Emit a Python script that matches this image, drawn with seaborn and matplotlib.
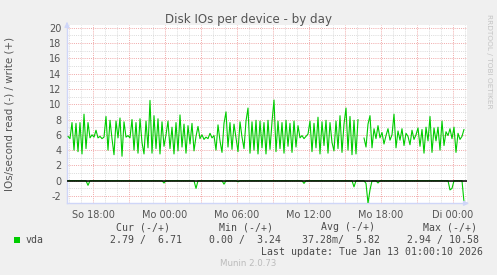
import numpy as np
import pandas as pd
import matplotlib
matplotlib.use("Agg")
import matplotlib.pyplot as plt
import seaborn as sns
from matplotlib.ticker import MultipleLocator, FuncFormatter
from matplotlib.patches import Rectangle

# ---------------- data ----------------
start_hour = 15 + 55 / 60      # Sunday 15:55 (hours since Sunday 00:00)
step_hours = 10 / 60           # one sample every 10 minutes

write_ops = [
    5.8, 5.5, 7.6, 4.0, 7.5, 3.8, 7.6, 3.5, 8.7, 4.2, 7.6,
    5.6, 6.0, 5.7, 6.6, 5.6, 5.8, 5.5, 5.7,
    8.4, 4.0, 7.9, 5.5, 3.4, 7.8, 5.6, 8.2, 3.2, 7.7,
    5.7, 5.9, 5.6, 8.0,
    4.0, 7.6, 3.6, 8.1, 5.0, 3.5, 7.8, 4.3, 10.5, 3.6, 8.5, 4.2, 8.1, 3.5, 7.7, 4.5, 6.0,
    7.8, 4.2, 7.0, 3.5, 7.6, 3.9, 8.6,
    4.4, 7.4, 3.6, 7.2, 4.8, 7.5, 3.9,
    5.8, 7.1, 5.5, 6.0, 5.4, 5.7, 5.5, 6.2, 5.6, 5.9,
    4.0, 7.3, 5.2, 3.7, 7.5, 9.0, 4.4, 7.6,
    4.1, 7.4, 5.6, 3.8, 7.7,
    5.7, 4.2, 7.8, 9.5, 3.6, 7.7, 4.0, 7.9, 3.5, 7.8, 4.3, 7.6,
    3.5, 7.9, 4.1, 7.7, 10.55, 3.8, 7.8, 4.2, 7.6, 3.6, 7.9, 4.5, 7.5, 3.7, 7.8, 4.4, 7.2,
    5.6, 5.9, 5.5, 5.8, 6.1,
    7.8, 3.8, 7.5, 4.3, 8.3, 3.5, 7.7, 4.6, 7.9, 3.6, 7.6, 5.0, 3.9, 7.8, 4.2, 8.5, 3.7, 7.4,
    9.5, 4.0, 8.4, 3.4, 7.9, 3.5, 8.0,
    np.nan, np.nan,
    5.6, 4.4, 7.4, 8.5, 4.3, 6.8, 5.5, 7.2,
    5.6, 6.3, 4.8, 5.9, 6.8, 5.3, 6.0,
    8.7, 4.3, 6.5,
    5.3, 6.8, 4.6, 6.2, 5.8, 4.7, 6.6, 5.4, 6.0, 6.9,
    4.5, 6.7, 3.6, 7.0, 5.2, 8.4, 3.7, 6.9,
    5.2, 7.0, 4.0, 7.8, 4.6, 6.4, 5.9, 6.8,
    5.5, 7.0, 3.7, 6.2, 5.4, 5.8, 6.71,
]

# read values (drawn below zero), non-zero only at a few samples
read_dips = {10: 0.6, 48: 0.3, 64: 1.0, 78: 0.45, 85: 0.15, 118: 0.35,
             143: 0.8, 149: 0.35, 150: 2.94, 151: 1.2, 155: 0.3,
             191: 1.2, 192: 1.0, 198: 2.79}
read_ops = [read_dips.get(i, 0.0) for i in range(len(write_ops))]

tick_hours = [18, 24, 30, 36, 42, 48]
tick_labels = ["So 18:00", "Mo 00:00", "Mo 06:00", "Mo 12:00", "Mo 18:00", "Di 00:00"]

title = "Disk IOs per device - by day"
y_label = "IOs/second read (-) / write (+)"
legend_name = "vda"
stat_headers = ["Cur (-/+)", "Min (-/+)", "Avg (-/+)", "Max (-/+)"]
stat_values = ["2.79 /  6.71", "0.00 /  3.24", "37.28m/  5.82", "2.94 / 10.58"]
last_update = "Last update: Tue Jan 13 01:00:10 2026"
footer = "Munin 2.0.73"
side_text = "RRDTOOL / TOBI OETIKER"

# ---------------- figure ----------------
sns.set_style("white")
plt.rcParams['font.family'] = ['DejaVu Sans']

W, H = 497, 275
fig = plt.figure(figsize=(W / 100, H / 100), dpi=100, facecolor='#F0F0F0')
left_px, right_px, top_px, bottom_px = 67, 467, 25.4, 203.3
ax = fig.add_axes([left_px / W, 1 - bottom_px / H, (right_px - left_px) / W,
                   (bottom_px - top_px) / H])
ax.set_facecolor('white')

n = len(write_ops)
hours = start_hour + step_hours * np.arange(n)
df = pd.DataFrame({'hour': hours,
                   'write': write_ops,
                   'read': -np.asarray(read_ops, dtype=float)})
df['seg'] = df['write'].isna().cumsum()
wdf = df.dropna(subset=['write'])

green = '#00CC00'
sns.lineplot(data=df, x='hour', y='read', color=green, lw=0.8, ax=ax,
             estimator=None, sort=False, zorder=3)
sns.lineplot(data=wdf, x='hour', y='write', units='seg', color=green, lw=0.8,
             ax=ax, estimator=None, sort=False, zorder=3)
ax.axhline(0, color='black', lw=1.1, zorder=4)

ax.set_xlim(15 + 50 / 60, 49 + 10 / 60)
ax.set_ylim(-2.95, 20.3)

label_map = dict(zip(tick_hours, tick_labels))
ax.xaxis.set_major_locator(MultipleLocator(3))
ax.xaxis.set_minor_locator(MultipleLocator(1))
ax.xaxis.set_major_formatter(FuncFormatter(
    lambda v, p: label_map.get(int(round(v)), "")))
ax.yaxis.set_major_locator(MultipleLocator(2))
ax.yaxis.set_minor_locator(MultipleLocator(1))
ax.yaxis.set_major_formatter(FuncFormatter(lambda v, p: f"{int(round(v))}"))

dots = (0, (1, 1.2))
ax.grid(which='minor', color='#dadada', ls=dots, lw=0.7, zorder=1)
ax.grid(which='major', color='#f0a8a8', ls=dots, lw=0.7, zorder=1)
ax.set_axisbelow(True)

ax.tick_params(axis='x', which='both', length=0, labelsize=7, colors='#555555', pad=5)
ax.tick_params(axis='y', which='major', length=2, width=0.7, color='#aaaaaa',
               labelsize=7, labelcolor='#555555', pad=2)
ax.tick_params(axis='y', which='minor', length=0)
ax.set_xlabel("")
ax.set_ylabel("")

for s in ['top', 'right']:
    ax.spines[s].set_visible(False)
for s in ['left', 'bottom']:
    ax.spines[s].set_color('#CFD6F8')
    ax.spines[s].set_linewidth(1.0)

ax.annotate('', xy=(0, 1.035), xytext=(0, 0.99), xycoords='axes fraction',
            arrowprops=dict(arrowstyle='-|>', color='#CFD6F8', lw=1.0,
                            mutation_scale=7), annotation_clip=False)
ax.annotate('', xy=(1.012, 0), xytext=(0.99, 0), xycoords='axes fraction',
            arrowprops=dict(arrowstyle='-|>', color='#CFD6F8', lw=1.0,
                            mutation_scale=7), annotation_clip=False)

def fx(px):
    return px / W

def fy(py):
    return 1 - py / H

fig.text(0.5, fy(19.3), title, ha='center', va='center', fontsize=8.6, color='#555555')
fig.text(fx(10), fy(114), y_label, rotation=90, ha='center', va='center',
         fontsize=7.4, color='#555555')
fig.text(fx(489), fy(14), side_text, rotation=270, ha='center', va='top',
         fontsize=5.3, color='#c4c4c4')

mono = 'DejaVu Sans Mono'
fs = 7.1
tc = '#4a4a4a'
header_x = [116, 219, 321, 423]
value_x = [110, 209, 302, 407]
for hx, htxt in zip(header_x, stat_headers):
    fig.text(fx(hx), fy(227.5), htxt, family=mono, fontsize=fs, color=tc,
             ha='left', va='center')
for vx, vtxt in zip(value_x, stat_values):
    fig.text(fx(vx), fy(240), vtxt, family=mono, fontsize=fs, color=tc,
             ha='left', va='center')
fig.text(fx(26), fy(240), legend_name, family=mono, fontsize=fs, color=tc,
         ha='left', va='center')
fig.patches.append(Rectangle((fx(14), fy(243)), 6 / W, 6 / H, transform=fig.transFigure,
                             facecolor=green, edgecolor='none'))
fig.text(fx(483), fy(252), last_update, family=mono, fontsize=fs, color=tc,
         ha='right', va='center')
fig.text(0.5, fy(264), footer, fontsize=6.2, color='#bbbbbb', ha='center', va='center')

fig.savefig('out.png', dpi=100, facecolor=fig.get_facecolor())
